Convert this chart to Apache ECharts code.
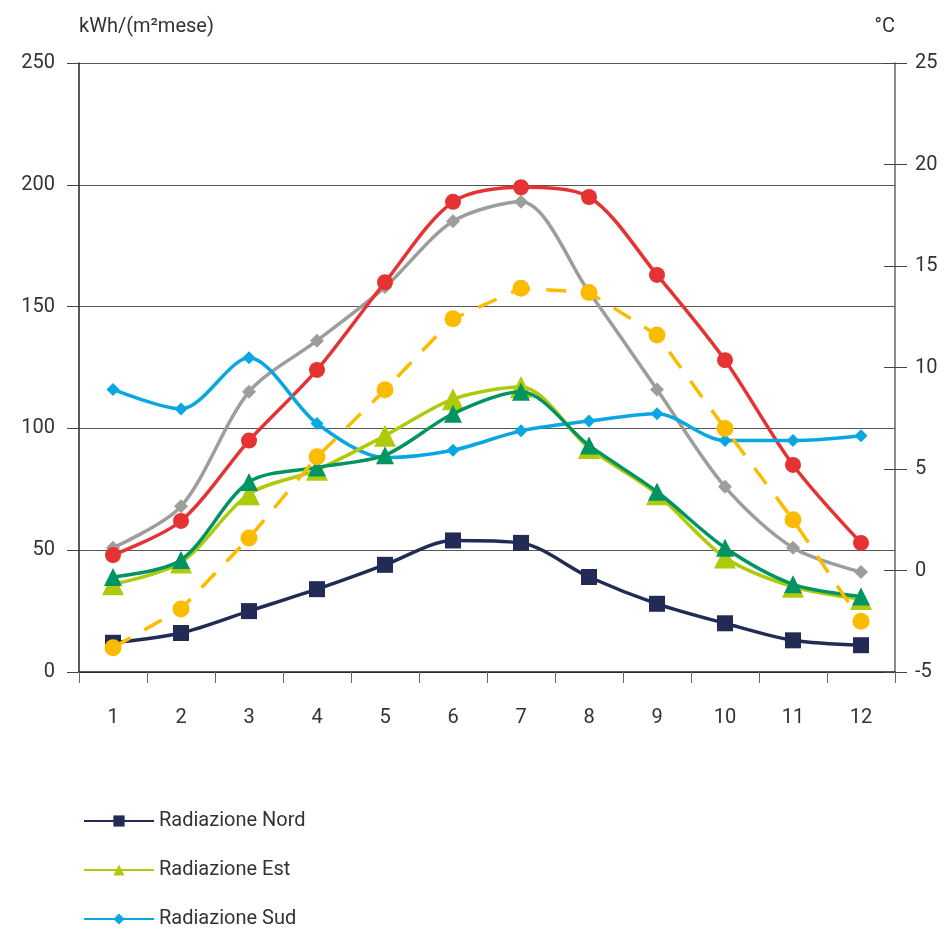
<!DOCTYPE html>
<html>
<head>
<meta charset="utf-8">
<script src="https://cdn.jsdelivr.net/npm/echarts@6/dist/echarts.min.js"></script>
<style>
  html, body { margin: 0; padding: 0; background: #fff; }
  #chart { width: 947px; height: 929px; }
</style>
</head>
<body>
<div id="chart"></div>
<script>
// mesi
const months = ["1", "2", "3", "4", "5", "6", "7", "8", "9", "10", "11", "12"];

// radiazione kWh/(m²mese)
const nord = [12, 16, 25, 34, 44, 54, 53, 39, 28, 20, 13, 11];
const est = [36, 45, 73, 83, 97, 112, 117, 92, 73, 47, 35, 30];
const sud = [116, 108, 129, 102, 88, 91, 99, 103, 106, 95, 95, 97];
const ovest = [39, 46, 78, 84, 89, 106, 115, 93, 74, 51, 36, 31];
const orizzontale = [51, 68, 115, 136, 158, 185, 193, 156, 116, 76, 51, 41];
const ottimale = [48, 62, 95, 124, 160, 193, 199, 195, 163, 128, 85, 53];

// temperatura °C
const temperatura = [-3.8, -1.9, 1.6, 5.6, 8.9, 12.4, 13.9, 13.7, 11.6, 7.0, 2.5, -2.5];

// voci di legenda visibili
const legendNames = ["Radiazione Nord", "Radiazione Est", "Radiazione Sud"];

const font = "Roboto";
const txt = "#333";

const chart = echarts.init(document.getElementById("chart"));

function serie(name, data, color, symbol, size, z, extra) {
  return Object.assign({
    name: name,
    type: "line",
    data: data,
    smooth: 0.3,
    symbol: symbol,
    symbolSize: size,
    showSymbol: true,
    z: z,
    itemStyle: { color: color },
    lineStyle: { color: color, width: 3.5 },
  }, extra || {});
}

// una legenda per riga, così restano in colonna
const legends = legendNames.map((name, i) => ({
  orient: "horizontal",
  left: 78,
  top: 806 + i * 49,
  itemWidth: 70,
  itemHeight: 14,
  data: [name],
  textStyle: { fontFamily: font, fontSize: 20, color: txt },
}));

const option = {
  animation: false,
  backgroundColor: "#fff",
  grid: { left: 79, right: 52, top: 63, bottom: 257, containLabel: false },
  legend: legends,
  xAxis: {
    type: "category",
    data: months,
    boundaryGap: true,
    axisLine: { lineStyle: { color: "#222", width: 1.5 } },
    axisTick: { show: true, length: 11, lineStyle: { color: "#666" } },
    axisLabel: { fontFamily: font, fontSize: 20, color: txt, margin: 36 },
  },
  yAxis: [
    {
      type: "value",
      min: 0,
      max: 250,
      interval: 50,
      position: "left",
      name: "kWh/(m²mese)",
      nameLocation: "end",
      nameGap: 26,
      nameTextStyle: { fontFamily: font, fontSize: 20, color: txt, align: "left" },
      axisLine: { show: true, lineStyle: { color: "#222", width: 1.5 } },
      axisTick: { show: true, length: 12, lineStyle: { color: "#444" } },
      axisLabel: { fontFamily: font, fontSize: 20, color: txt, margin: 24 },
      splitLine: { show: true, lineStyle: { color: "#555", width: 1.2 } },
    },
    {
      type: "value",
      min: -5,
      max: 25,
      interval: 5,
      position: "right",
      name: "°C",
      nameLocation: "end",
      nameGap: 26,
      nameTextStyle: { fontFamily: font, fontSize: 20, color: txt, align: "right" },
      axisLine: { show: true, lineStyle: { color: "#666", width: 1.5 } },
      axisTick: { show: true, length: 12, lineStyle: { color: "#444" } },
      axisLabel: { fontFamily: font, fontSize: 20, color: txt, margin: 20 },
      splitLine: { show: false },
    },
    {
      // tacche interne dell'asse destro
      type: "value",
      min: -5,
      max: 25,
      interval: 5,
      position: "right",
      axisLine: { show: false },
      axisTick: { show: true, inside: true, length: 11, lineStyle: { color: "#444" } },
      axisLabel: { show: false },
      splitLine: { show: false },
    },
  ],
  series: [
    serie("Radiazione orizzontale", orizzontale, "#9d9d9c", "diamond", 14, 2),
    serie("Radiazione ottimale", ottimale, "#e53232", "circle", 16, 3),
    serie("Radiazione Sud", sud, "#0aa6e2", "diamond", 13, 4),
    serie("Radiazione Est", est, "#afca0b", "triangle", 22, 5),
    serie("Radiazione Ovest", ovest, "#009462", "triangle", 18, 6),
    serie("Radiazione Nord", nord, "#222a56", "rect", 16, 7),
    serie("Temperatura", temperatura, "#fbbc00", "circle", 17, 8, {
      yAxisIndex: 1,
      smooth: false,
      lineStyle: { color: "#fbbc00", width: 3.5, type: [20, 16] },
    }),
  ],
};

chart.setOption(option);
</script>
</body>
</html>
